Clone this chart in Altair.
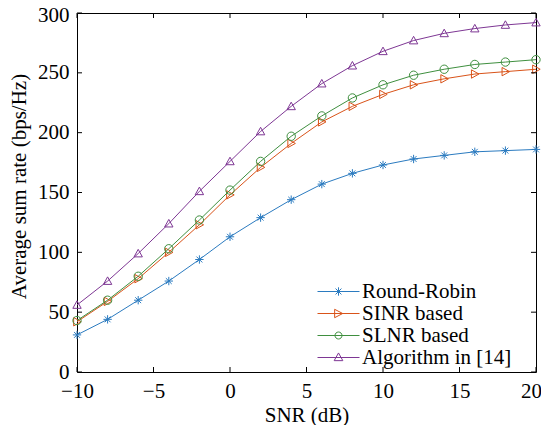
import altair as alt
import pandas as pd

snr = [-10, -8, -6, -4, -2, 0, 2, 4, 6, 8, 10, 12, 14, 16, 18, 20]
round_robin = [31, 44, 60, 76, 94, 113, 129, 144, 157, 166, 173, 178, 181, 184, 185, 186]
sinr_based = [42, 59, 78, 100, 123, 148, 171, 191, 209, 222, 232, 240, 245, 249, 251, 253]
slnr_based = [43, 60, 80, 103, 127, 152, 176, 197, 214, 229, 240, 248, 253, 257, 259, 261]
algorithm14 = [56, 76, 99, 124, 151, 176, 201, 222, 241, 256, 268, 277, 283, 287, 290, 292]

series_names = ["Round-Robin", "SINR based", "SLNR based", "Algorithm in [14]"]
series_values = [round_robin, sinr_based, slnr_based, algorithm14]
colors = ["#2b7bc0", "#d95319", "#3f8f3f", "#7e3794"]

x_ticks = [-10, -5, 0, 5, 10, 15, 20]
y_ticks = [0, 50, 100, 150, 200, 250, 300]

FONT = "Liberation Serif"
W, H = 459, 359

# marker paths (unit space)
marker_paths = [
    "M-1,0L1,0M0,-1L0,1M-0.7,-0.7L0.7,0.7M-0.7,0.7L0.7,-0.7",
    "M-0.8,-1L1,0L-0.8,1Z",
    "M1,0A1,1 0 1,1 -1,0A1,1 0 1,1 1,0",
    "M0,-1L1,0.8L-1,0.8Z",
]
# legend symbols: a short line with the marker on it (unit = 7px)
legend_paths = [
    "M-1,0H5M2,-0.6V0.6M1.58,-0.42L2.42,0.42M1.58,0.42L2.42,-0.42",
    "M-1,0H5M1.45,-0.6L2.6,0L1.45,0.6Z",
    "M-1,0H5M2.5,0A0.5,0.5 0 1,1 1.5,0A0.5,0.5 0 1,1 2.5,0",
    "M-1,0H5M2,-0.65L2.62,0.45L1.38,0.45Z",
]

rows = []
for name, vals in zip(series_names, series_values):
    for s, v in zip(snr, vals):
        rows.append({"snr": s, "rate": v, "series": name})
df = pd.DataFrame(rows)

xscale = alt.Scale(domain=[-10, 20], nice=False, zero=False)
yscale = alt.Scale(domain=[0, 300], nice=False)

xaxis = alt.Axis(values=x_ticks, title="SNR (dB)", tickSize=0, labelPadding=8,
                 labelFlush=False,
                 labelOffset={"condition": {"test": "datum.value == 20", "value": -5}, "value": 0},
                 titleBaseline="alphabetic", titleY=49,
                 grid=False, domain=False)
yaxis = alt.Axis(values=y_ticks, title="Average sum rate (bps/Hz)", tickSize=0,
                 labelPadding=8, labelFlush=False,
                 labelOffset={"condition": {"test": "datum.value == 300", "value": 2}, "value": 0},
                 titleX=-58, titleY=173,
                 titleBaseline="middle", grid=False, domain=False)

layers = []
for name, col, mp in zip(series_names, colors, marker_paths):
    sub = alt.Chart(df).transform_filter(alt.datum.series == name)
    line = sub.mark_line(color=col, strokeWidth=1).encode(
        x=alt.X("snr:Q", scale=xscale, axis=xaxis),
        y=alt.Y("rate:Q", scale=yscale, axis=yaxis),
    )
    pts = sub.mark_point(shape=mp, filled=False, color=col, size=70, strokeWidth=1, opacity=1).encode(
        x=alt.X("snr:Q", scale=xscale, axis=xaxis),
        y=alt.Y("rate:Q", scale=yscale, axis=yaxis),
    )
    layers += [line, pts]

leg = alt.Legend(title=None, orient="none", legendX=237, legendY=268,
                 labelFont=FONT, labelFontSize=21, labelColor="black",
                 symbolSize=196, symbolStrokeWidth=1, symbolOpacity=1,
                 symbolFillColor="transparent", rowPadding=0,
                 labelOffset=27, padding=0)
dummy = alt.Chart(df).mark_point(opacity=0, filled=False).encode(
    x=alt.X("snr:Q", scale=xscale, axis=xaxis),
    y=alt.Y("rate:Q", scale=yscale, axis=yaxis),
    color=alt.Color("series:N", scale=alt.Scale(domain=series_names, range=colors), legend=leg),
    shape=alt.Shape("series:N", scale=alt.Scale(domain=series_names, range=legend_paths), legend=leg),
)

xt = pd.DataFrame({"v": x_ticks})
yt = pd.DataFrame({"v": y_ticks})
xb = alt.Chart(xt).mark_rule(color="black", strokeWidth=1).encode(
    x=alt.X("v:Q", scale=xscale, axis=xaxis), y=alt.value(H), y2=alt.value(H - 5))
xtop = alt.Chart(xt).mark_rule(color="black", strokeWidth=1).encode(
    x=alt.X("v:Q", scale=xscale, axis=xaxis), y=alt.value(0), y2=alt.value(5))
yl = alt.Chart(yt).mark_rule(color="black", strokeWidth=1).encode(
    y=alt.Y("v:Q", scale=yscale, axis=yaxis), x=alt.value(0), x2=alt.value(5))
yr = alt.Chart(yt).mark_rule(color="black", strokeWidth=1).encode(
    y=alt.Y("v:Q", scale=yscale, axis=yaxis), x=alt.value(W), x2=alt.value(W - 5))

chart = alt.layer(*layers, dummy, xb, xtop, yl, yr).properties(
    width=W, height=H,
    autosize=alt.AutoSizeParams(type="none"),
    padding={"left": 69, "top": 5, "right": 5, "bottom": 53},
).configure(background="white").configure_view(stroke="black", strokeWidth=1).configure_axis(
    labelFont=FONT, labelFontSize=21, labelColor="black",
    titleFont=FONT, titleFontSize=21, titleColor="black", titleFontWeight="normal",
)

chart.save("out.html", embed_options={"renderer": "svg", "actions": False})
